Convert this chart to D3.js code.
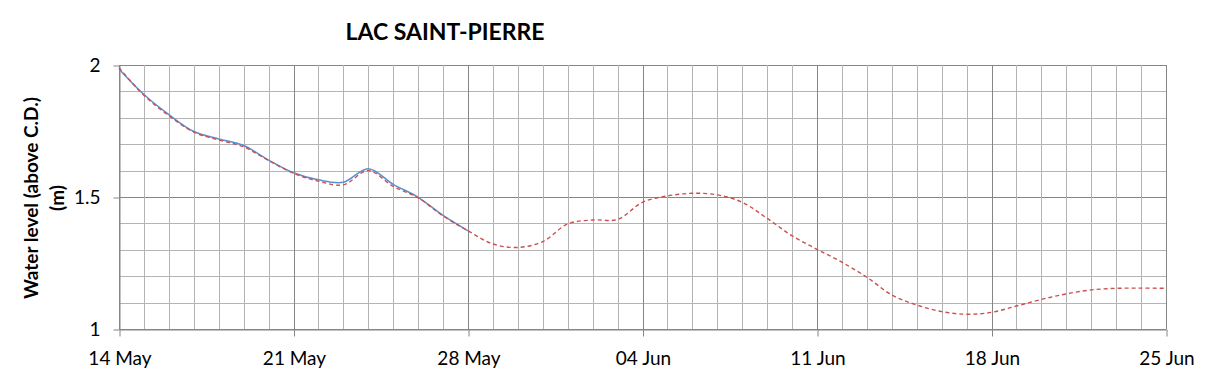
<!DOCTYPE html>
<html>
<head>
<meta charset="utf-8">
<script src="https://cdn.jsdelivr.net/npm/d3@7"></script>
<style>
  body { margin: 0; background: #fff; }
  text { font-family: Lato, "Liberation Sans", sans-serif; }
</style>
</head>
<body>
<svg id="chart"></svg>
<script>
// data (daily, 00h)
const startDate = '2019-05-14';
const endDate = '2019-06-25';
const observed = [1.985, 1.888, 1.812, 1.748, 1.72, 1.695, 1.64, 1.592, 1.565, 1.556,
                  1.607, 1.548, 1.499, 1.43, 1.372];
const forecast = [1.99, 1.885, 1.808, 1.746, 1.716, 1.69, 1.638, 1.59, 1.56, 1.546,
                  1.60, 1.54, 1.497, 1.428, 1.372, 1.322, 1.309, 1.331, 1.398, 1.413,
                  1.415, 1.48, 1.504, 1.514, 1.508, 1.48, 1.419, 1.353, 1.302, 1.253,
                  1.196, 1.129, 1.091, 1.066, 1.056, 1.063, 1.087, 1.112, 1.133, 1.148,
                  1.154, 1.155, 1.154];
const yTicks = [1, 1.5, 2];
const title = 'LAC SAINT-PIERRE';
const ylabel1 = 'Water level (above C.D.)';
const ylabel2 = '(m)';

class WaterChart {
    constructor (config) {
        this.config = {
            parent: config.parent,
            width: config.width || 1209,
            height: config.height || 378,
            margin: config.margin || {top:65, right:43, bottom:49, left:119}
        };
        this.init();
    }

    init() {
        let self = this;
        self.svg = d3.select(self.config.parent)
            .attr('width', self.config.width)
            .attr('height', self.config.height);

        self.chart = self.svg.append('g')
            .attr('transform', `translate(${self.config.margin.left}, ${self.config.margin.top})`);

        self.inner_width = self.config.width - self.config.margin.left - self.config.margin.right;
        self.inner_height = self.config.height - self.config.margin.top - self.config.margin.bottom;

        const parse = d3.timeParse('%Y-%m-%d');
        self.t0 = parse(startDate);
        self.t1 = parse(endDate);

        self.xscale = d3.scaleTime()
            .domain([self.t0, self.t1])
            .range([0, self.inner_width]);
        self.yscale = d3.scaleLinear()
            .domain([1, 2])
            .range([self.inner_height, 0]);
    }

    toSeries(vals) {
        return vals.map((v, i) => ({ date: d3.timeDay.offset(this.t0, i), value: v }));
    }

    render() {
        let self = this;
        const days = d3.timeDay.range(self.t0, d3.timeDay.offset(self.t1, 1));
        const weeks = days.filter((d, i) => i % 7 === 0);

        // horizontal grid
        const hvals = d3.range(10, 21).map(d => d / 10);
        self.chart.append('g').selectAll('line')
            .data(hvals)
            .join('line')
            .attr('x1', 0).attr('x2', self.inner_width)
            .attr('y1', d => Math.round(self.yscale(d)) + 0.5)
            .attr('y2', d => Math.round(self.yscale(d)) + 0.5)
            .attr('stroke', d => (Math.round(d * 10) % 5 === 0) ? '#868686' : '#b4b4b4')
            .attr('stroke-width', 1);

        // vertical grid
        self.chart.append('g').selectAll('line')
            .data(days)
            .join('line')
            .attr('x1', d => Math.round(self.xscale(d)) + 0.5)
            .attr('x2', d => Math.round(self.xscale(d)) + 0.5)
            .attr('y1', 0).attr('y2', self.inner_height)
            .attr('stroke', (d, i) => (i % 7 === 0) ? '#868686' : '#b4b4b4')
            .attr('stroke-width', 1);

        // axes
        const xaxis = d3.axisBottom(self.xscale)
            .tickValues(weeks)
            .tickFormat(d3.timeFormat('%d %b'))
            .tickSize(7)
            .tickSizeOuter(0)
            .tickPadding(15);
        const xg = self.chart.append('g')
            .attr('transform', `translate(0.5, ${self.inner_height + 0.5})`)
            .call(xaxis);
        xg.select('.domain').attr('stroke', '#868686');
        xg.selectAll('.tick line').attr('stroke', '#868686');
        xg.selectAll('text').style('font-size', '19px').attr('fill', '#000');

        const yaxis = d3.axisLeft(self.yscale)
            .tickValues(yTicks)
            .tickFormat(d3.format('~g'))
            .tickSize(6)
            .tickSizeOuter(0)
            .tickPadding(13);
        const yg = self.chart.append('g')
            .attr('transform', 'translate(0.5, 0.5)')
            .call(yaxis);
        yg.select('.domain').attr('stroke', '#868686');
        yg.selectAll('.tick line').attr('stroke', '#868686');
        yg.selectAll('text').style('font-size', '19px').attr('fill', '#000');

        const line = d3.line()
            .x(d => self.xscale(d.date))
            .y(d => self.yscale(d.value))
            .curve(d3.curveCatmullRom.alpha(0.5));

        self.chart.append('path')
            .datum(self.toSeries(observed))
            .attr('d', line)
            .attr('fill', 'none')
            .attr('stroke', '#5b8fd0')
            .attr('stroke-width', 1.5);

        self.chart.append('path')
            .datum(self.toSeries(forecast))
            .attr('d', line)
            .attr('fill', 'none')
            .attr('stroke', '#cc4f4f')
            .attr('stroke-width', 1.4)
            .attr('stroke-dasharray', '4,3');

        // title & labels
        self.svg.append('text')
            .attr('x', 445).attr('y', 40)
            .attr('text-anchor', 'middle')
            .style('font-size', '23px')
            .style('font-weight', 'bold')
            .text(title);

        const ly = self.config.margin.top + self.inner_height / 2 + 1;
        self.svg.append('text')
            .attr('transform', `translate(38, ${ly}) rotate(-90)`)
            .attr('text-anchor', 'middle')
            .style('font-size', '19px')
            .style('font-weight', 'bold')
            .text(ylabel1);
        self.svg.append('text')
            .attr('transform', `translate(64, ${ly}) rotate(-90)`)
            .attr('text-anchor', 'middle')
            .style('font-size', '19px')
            .style('font-weight', 'bold')
            .text(ylabel2);
    }
}

const chart = new WaterChart({ parent: '#chart' });
chart.render();
</script>
</body>
</html>
